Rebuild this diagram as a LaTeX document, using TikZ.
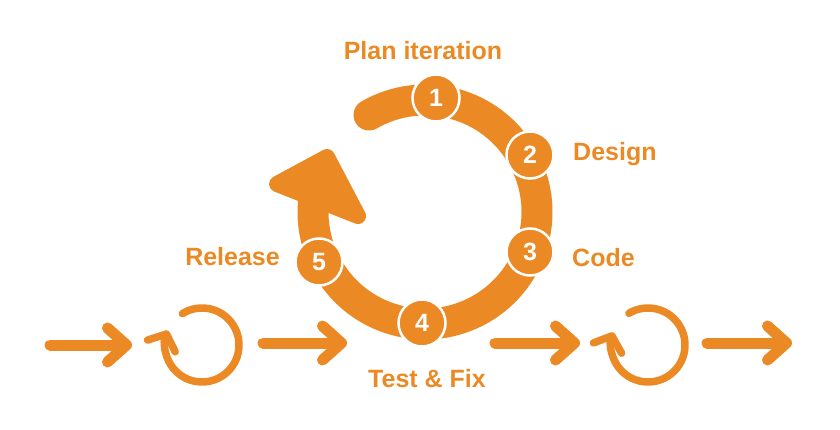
\documentclass[tikz,border=0pt]{standalone}
\usepackage{fontspec}
\setmainfont{Liberation Sans}
\usetikzlibrary{arrows.meta}
\definecolor{agile}{RGB}{235,137,37}

\begin{document}
\begin{tikzpicture}[x=1pt,y=1pt,
		phase/.style={text=agile,font=\fontsize{25}{30}\selectfont\bfseries,inner sep=0pt},
		stepnum/.style={circle,fill=agile,draw=white,line width=2.5pt,minimum size=47pt,inner sep=0pt,
			text=white,font=\fontsize{25}{28}\selectfont\bfseries},
		flow/.style={draw=agile,line width=11pt,line cap=round,-{Straight Barb[length=19pt,width=34pt,round]}},
		spin/.style={draw=agile,line width=7.5pt,line cap=round,-{Straight Barb[length=13pt,width=30pt,round]}}]
				\useasboundingbox (0,0) rectangle (840,429);

				\coordinate (hub) at (425,217);
				\draw[agile,line width=31pt,line cap=round]
				([shift={(120:112)}]hub) arc[start angle=120,end angle=-185,radius=112];
				\filldraw[agile,line width=16pt,line join=round]
				(327,272) -- (277,245) -- (358,213) -- cycle;

				\node[stepnum] (s1) at (436,331) {1};
				\node[stepnum] (s2) at (530,274) {2};
				\node[stepnum] (s3) at (530,177) {3};
				\node[stepnum] (s4) at (422,106) {4};
				\node[stepnum] (s5) at (319,167) {5};

				\node[phase,anchor=base] (plan) at (423,369) {Plan iteration};
				\node[phase,anchor=base west] (design) at (573,269) {Design};
				\node[phase,anchor=base west] (code) at (572,163) {Code};
				\node[phase,anchor=base east] (release) at (280,164) {Release};
				\node[phase,anchor=base] (test) at (427,42) {Test \& Fix};

				\coordinate (spinA) at (202,84);
				\coordinate (spinB) at (648,84);
				\draw[spin] ([shift={(122:37)}]spinA) arc[start angle=122,end angle=-203,radius=37];
				\draw[spin] ([shift={(121:37)}]spinB) arc[start angle=121,end angle=-200,radius=37];

				\coordinate (w1) at (50,84);
				\coordinate (e1) at (132,84);
				\coordinate (w2) at (263,86);
				\coordinate (e2) at (347,86);
				\coordinate (w3) at (495,86);
				\coordinate (e3) at (580,86);
				\coordinate (w4) at (707,86);
				\coordinate (e4) at (792,86);
				\draw[flow] (w1) -- (e1);
				\draw[flow] (w2) -- (e2);
				\draw[flow] (w3) -- (e3);
				\draw[flow] (w4) -- (e4);
			\end{tikzpicture}
\end{document}
